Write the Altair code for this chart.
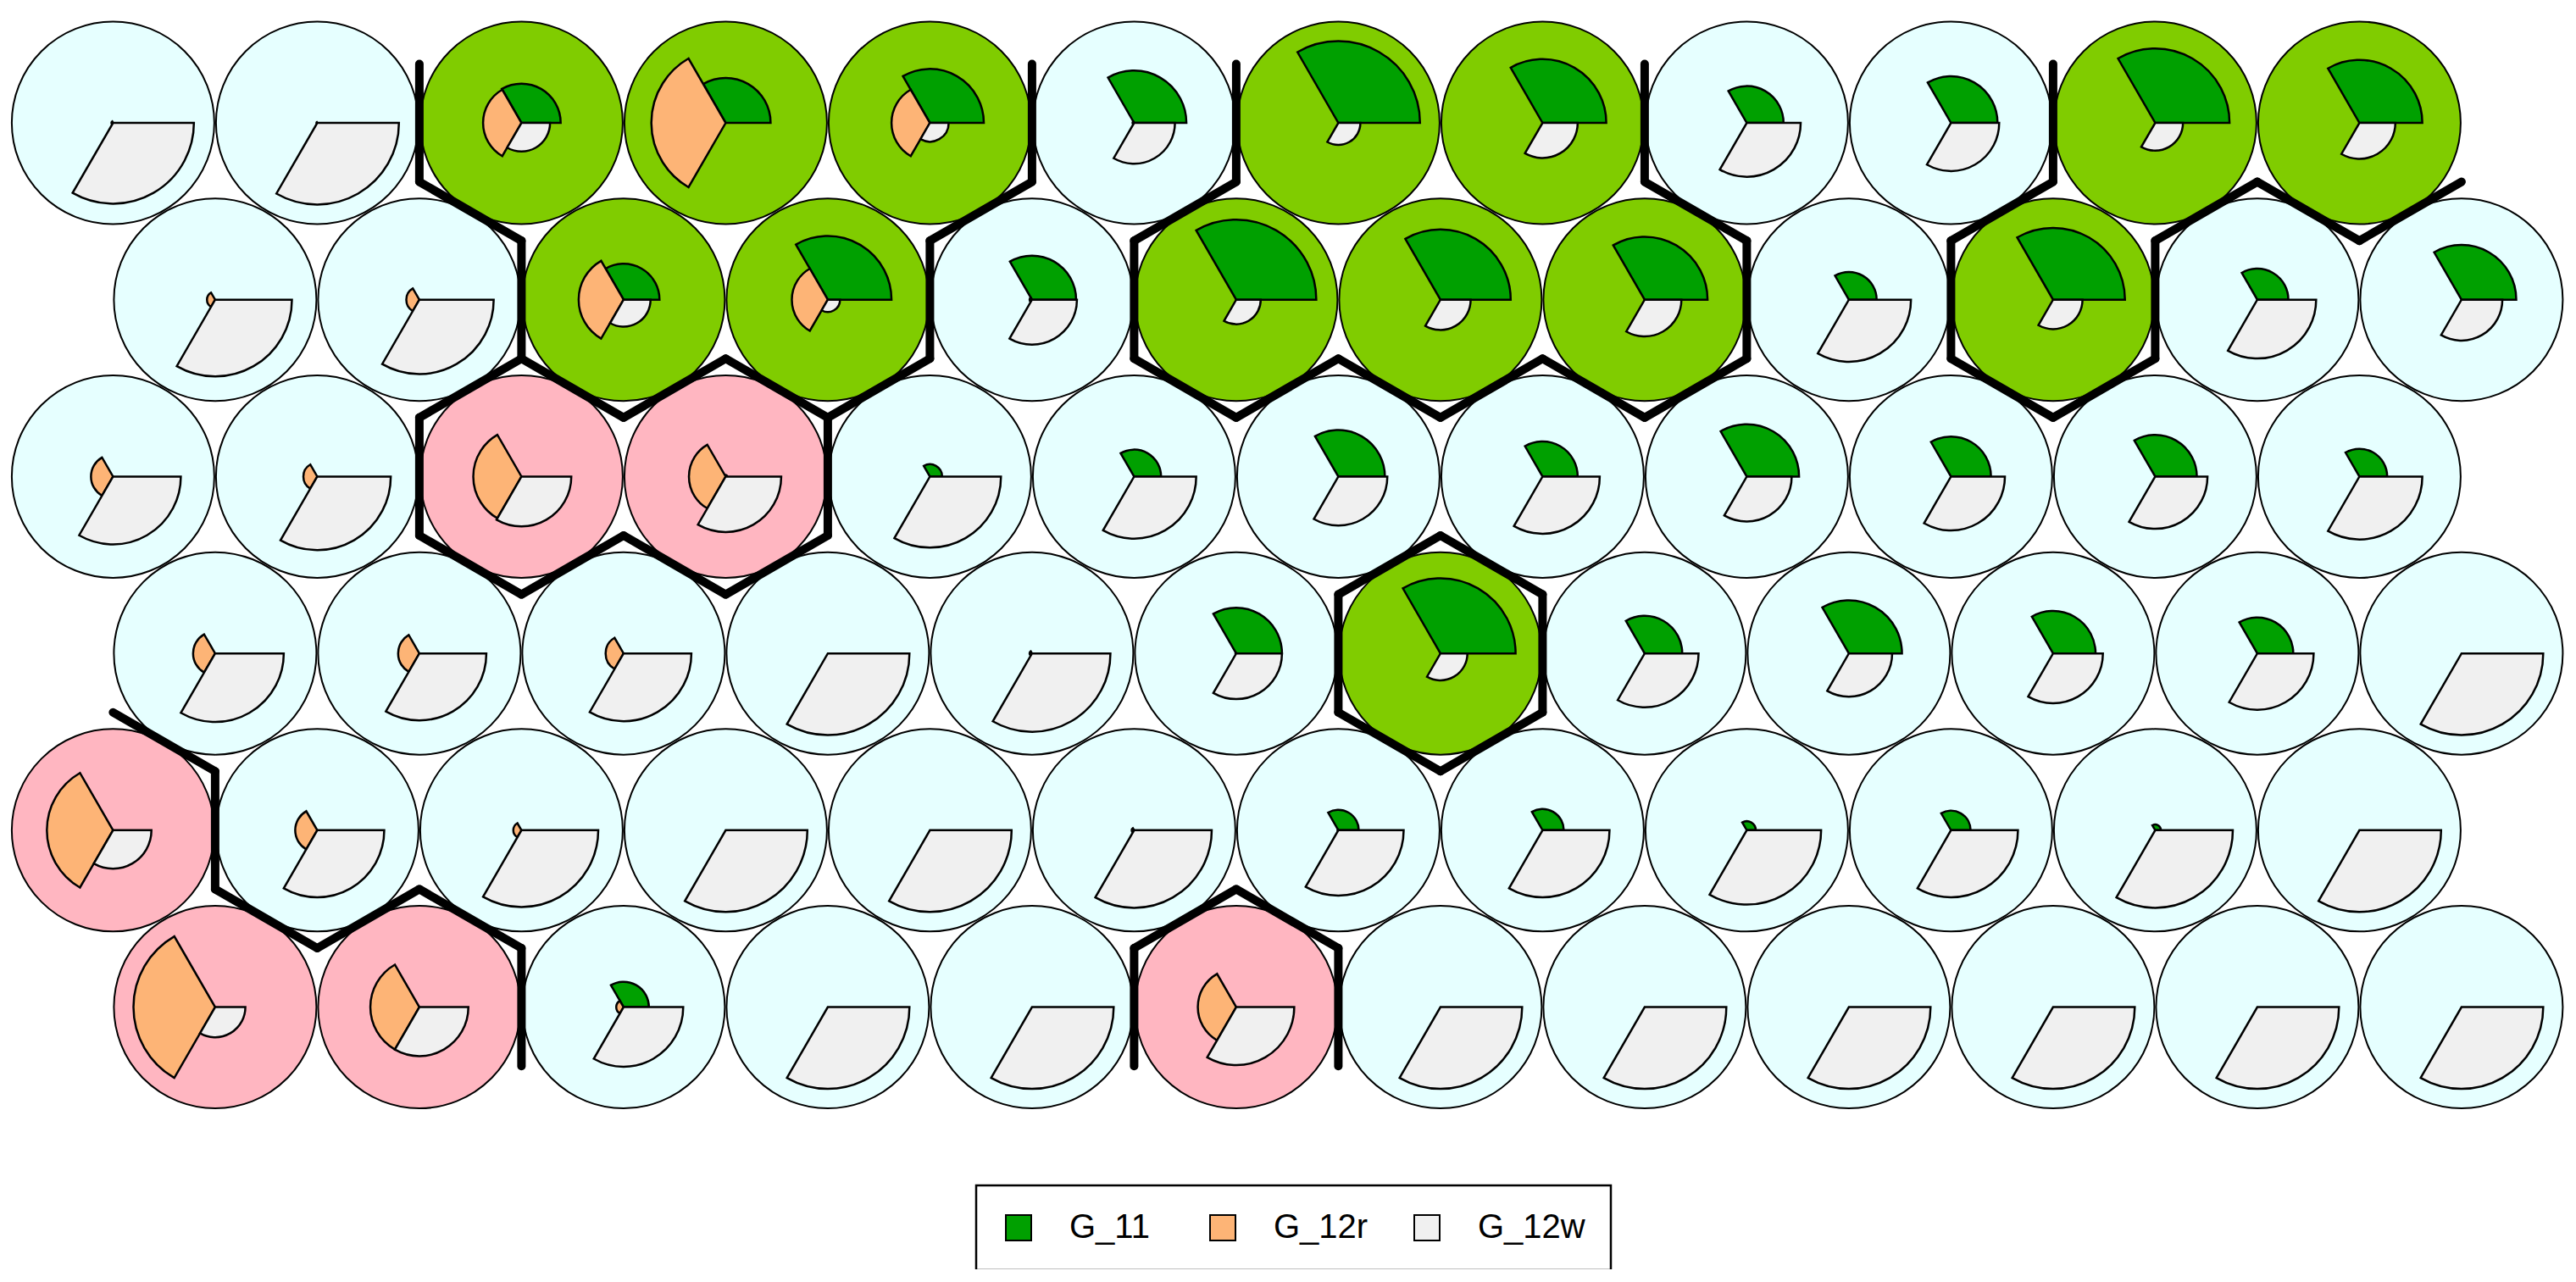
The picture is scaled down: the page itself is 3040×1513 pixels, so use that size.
import math
import altair as alt
import pandas as pd

# ---------------- data (SOM codes, 12 x 6 hexagonal grid, rows listed top to bottom) -------------
NCOL, NROW = 12, 6
VARS = ["G_11", "G_12r", "G_12w"]
VAR_COLORS = ["#00A000", "#FDB476", "#F0F0F0"]

G_11 = [
    0.00, 0.00, 0.48, 0.55, 0.66, 0.64, 1.00, 0.78, 0.45, 0.57, 0.91, 0.77,
    0.00, 0.00, 0.44, 0.78, 0.54, 0.98, 0.86, 0.77, 0.34, 0.88, 0.38, 0.67,
    0.00, 0.00, 0.00, 0.02, 0.15, 0.33, 0.57, 0.43, 0.64, 0.49, 0.51, 0.34,
    0.00, 0.00, 0.00, 0.00, 0.00, 0.56, 0.92, 0.46, 0.65, 0.52, 0.44, 0.00,
    0.00, 0.00, 0.00, 0.00, 0.00, 0.00, 0.25, 0.26, 0.11, 0.24, 0.07, 0.00,
    0.00, 0.00, 0.31, 0.00, 0.00, 0.00, 0.00, 0.00, 0.00, 0.00, 0.00, 0.00,
]
G_12r = [
    0.02, 0.01, 0.47, 0.91, 0.47, 0.02, 0.00, 0.00, 0.00, 0.00, 0.00, 0.00,
    0.10, 0.16, 0.55, 0.44, 0.03, 0.00, 0.00, 0.00, 0.00, 0.00, 0.00, 0.00,
    0.27, 0.17, 0.59, 0.45, 0.00, 0.00, 0.00, 0.00, 0.00, 0.00, 0.00, 0.00,
    0.27, 0.26, 0.22, 0.00, 0.03, 0.01, 0.00, 0.00, 0.00, 0.00, 0.00, 0.00,
    0.81, 0.27, 0.10, 0.00, 0.00, 0.03, 0.01, 0.00, 0.00, 0.00, 0.00, 0.00,
    1.00, 0.60, 0.09, 0.00, 0.00, 0.47, 0.00, 0.00, 0.00, 0.00, 0.00, 0.00,
]
G_12w = [
    0.99, 1.00, 0.35, 0.00, 0.23, 0.50, 0.27, 0.43, 0.66, 0.59, 0.34, 0.44,
    0.94, 0.91, 0.33, 0.15, 0.55, 0.30, 0.37, 0.45, 0.76, 0.36, 0.72, 0.50,
    0.83, 0.90, 0.61, 0.68, 0.87, 0.76, 0.60, 0.70, 0.55, 0.66, 0.64, 0.77,
    0.84, 0.82, 0.83, 1.00, 0.96, 0.56, 0.33, 0.66, 0.53, 0.61, 0.69, 1.00,
    0.47, 0.82, 0.94, 1.00, 1.00, 0.95, 0.80, 0.82, 0.91, 0.82, 0.95, 1.00,
    0.37, 0.60, 0.73, 1.00, 1.00, 0.71, 1.00, 1.00, 1.00, 1.00, 1.00, 1.00,
]
CLUSTER = list(
    "AABBBABBAABB"
    "AABBABBBABAA"
    "AACCAAAAAAAA"
    "AAAAAABAAAAA"
    "CAAAAAAAAAAA"
    "CCAAACAAAAAA"
)
CLUSTER_NAMES = ["A", "B", "C"]
CLUSTER_COLORS = ["#E6FFFF", "#80CC00", "#FFB6C1"]

# ---------------- geometry helpers --------------------------------------------------------------
UNIT = 241.0            # pixels per grid unit
W, H = 3020, 1490       # plot area
X0, Y0 = 125.4, 137.0   # pixel position of the first unit centre
SEG_LEN = 0.4           # stars() len
HEX_R = 1 / math.sqrt(3)


def pos(r, c):
    return c + 0.5 * (r % 2), r * math.sqrt(3) / 2


units = []
for r in range(NROW):
    for c in range(NCOL):
        gx, gy = pos(r, c)
        units.append({"row": r, "col": c, "gx": gx, "gy": gy,
                      "cluster": CLUSTER[r * NCOL + c]})
units_df = pd.DataFrame(units)

series = [G_11, G_12r, G_12w]
segs = []
for k, u in enumerate(units):
    for i, name in enumerate(VARS):
        v = series[i][k]
        if v <= 0:
            continue
        phi0 = 2 * math.pi * i / 3
        phi1 = 2 * math.pi * (i + 1) / 3
        segs.append({"gx": u["gx"], "gy": u["gy"], "var": name,
                     "t0": math.pi / 2 - phi1, "t1": math.pi / 2 - phi0,
                     "r": SEG_LEN * v})
segs_df = pd.DataFrame(segs)


def neighbours(r, c):
    out = []
    if c + 1 < NCOL:
        out.append((r, c + 1))
    if r + 1 < NROW:
        cand = [(r + 1, c - 1), (r + 1, c)] if r % 2 == 0 else [(r + 1, c), (r + 1, c + 1)]
        out += [(rr, cc) for rr, cc in cand if 0 <= cc < NCOL]
    return out


edges = []
for r in range(NROW):
    for c in range(NCOL):
        for rr, cc in neighbours(r, c):
            if CLUSTER[r * NCOL + c] == CLUSTER[rr * NCOL + cc]:
                continue
            ax, ay = pos(r, c)
            bx, by = pos(rr, cc)
            mx, my = (ax + bx) / 2, (ay + by) / 2
            dx, dy = bx - ax, by - ay
            n = math.hypot(dx, dy)
            px, py = -dy / n, dx / n
            h = HEX_R / 2
            edges.append({"x1": mx + h * px, "y1": my + h * py,
                          "x2": mx - h * px, "y2": my - h * py})
edges_df = pd.DataFrame(edges)

# ---------------- scales --------------------------------------------------------------------------
xs = alt.Scale(domain=[-X0 / UNIT, (W - X0) / UNIT], nice=False, zero=False)
ys = alt.Scale(domain=[-Y0 / UNIT, (H - Y0) / UNIT], nice=False, zero=False, reverse=True)
rs = alt.Scale(type="linear", domain=[0, 1], range=[0, UNIT], nice=False, zero=True)

bg = alt.Chart(units_df).mark_arc(stroke="black", strokeWidth=2).encode(
    x=alt.X("gx:Q", scale=xs, axis=None),
    y=alt.Y("gy:Q", scale=ys, axis=None),
    theta=alt.value(0),
    theta2=alt.value(2 * math.pi),
    radius=alt.value(UNIT / 2 - 1),
    color=alt.Color("cluster:N", scale=alt.Scale(domain=CLUSTER_NAMES, range=CLUSTER_COLORS),
                    legend=None),
)

seg = alt.Chart(segs_df).mark_arc(stroke="black", strokeWidth=2.5).encode(
    x=alt.X("gx:Q", scale=xs, axis=None),
    y=alt.Y("gy:Q", scale=ys, axis=None),
    theta=alt.Theta("t0:Q", scale=None, stack=None),
    theta2=alt.Theta2("t1:Q"),
    radius=alt.Radius("r:Q", scale=rs, stack=None),
    fill=alt.Fill("var:N", scale=alt.Scale(domain=VARS, range=VAR_COLORS),
                  legend=alt.Legend(title=None, orient="none", legendX=1144, legendY=1391,
                                    direction="horizontal", symbolType="square",
                                    symbolSize=900, symbolStrokeColor="black",
                                    symbolStrokeWidth=2, labelFontSize=40,
                                    labelFont="Liberation Sans", labelColor="black",
                                    labelOffset=40, columnPadding=34, gridAlign="all",
                                    padding=30, strokeColor="black")),
)

rules = alt.Chart(edges_df).mark_rule(color="black", strokeWidth=10, strokeCap="round").encode(
    x=alt.X("x1:Q", scale=xs, axis=None),
    y=alt.Y("y1:Q", scale=ys, axis=None),
    x2="x2:Q",
    y2="y2:Q",
)

chart = alt.layer(bg, seg, rules).properties(
    width=W, height=H, padding=0,
    autosize=alt.AutoSizeParams(type="none"),
).configure_view(stroke=None).configure_legend(strokeWidth=2.5)

chart.save("out.html", embed_options={"renderer": "svg", "actions": False})
